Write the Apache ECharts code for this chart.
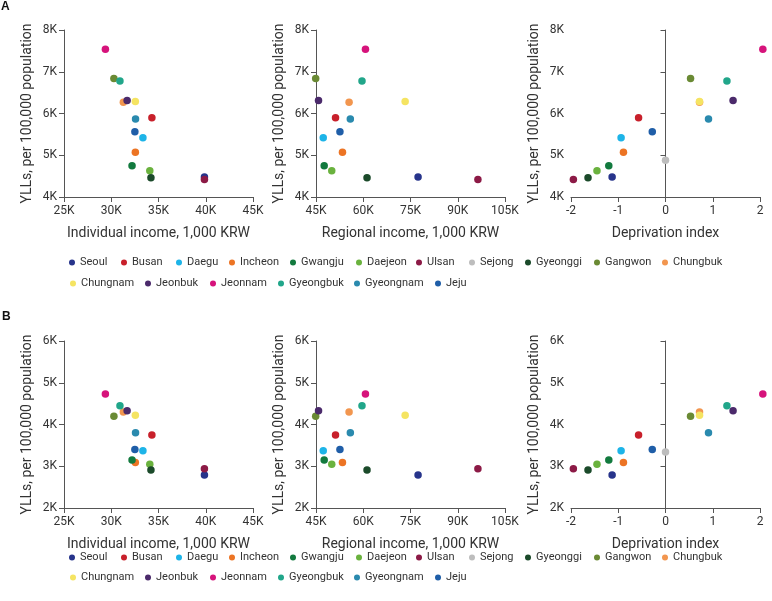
<!DOCTYPE html>
<html><head><meta charset="utf-8">
<script src="https://cdn.jsdelivr.net/npm/echarts@6/dist/echarts.min.js"></script>
<style>html,body{margin:0;padding:0;background:#fff}#c{width:772px;height:601px}</style>
</head><body><div id="c"></div>
<script>
const regions = ["Seoul","Busan","Daegu","Incheon","Gwangju","Daejeon","Ulsan","Sejong","Gyeonggi","Gangwon","Chungbuk","Chungnam","Jeonbuk","Jeonnam","Gyeongbuk","Gyeongnam","Jeju"];
const palette = ["#27348b","#c8202b","#1db4e8","#ec7424","#127a3e","#6ab23e","#8c1a46","#bdbdbd","#1b4a2a","#6a8a34","#f2964f","#f5e462","#4b2a6b","#d6137b","#21a68a","#2a8aae","#1f5ea8"];
// Individual income, 1,000 KRW (Sejong not shown)
const individualIncome = [39860,34300,33350,32550,32200,34080,39860,null,34200,30280,31280,32550,31680,29380,30920,32570,32500];
// Regional income, 1,000 KRW (Sejong not shown)
const regionalIncome = [77400,51200,47300,53400,47600,50000,96400,null,61200,44900,55500,73300,45800,60700,59600,55900,52600];
// Deprivation index
const deprivationIndex = [-1.13,-0.57,-0.94,-0.89,-1.20,-1.45,-1.95,0.00,-1.64,0.53,0.72,0.72,1.43,2.06,1.30,0.91,-0.28];
// YLLs per 100,000 population, panel A
const yllsA = [4480,5900,5420,5070,4750,4630,4420,4880,4460,6840,6270,6290,6310,7540,6780,5870,5560];
// YLLs per 100,000 population, panel B
const yllsB = [2790,3750,3370,3090,3150,3050,2940,3340,2910,4200,4300,4220,4330,4730,4450,3800,3400];

// layout only: legend marker centres (x) and row for each region
const legendX = [72,124,179,232,293,359,419,472,528,597,665,73,148,213,281,357,438];
const legendRow = [0,0,0,0,0,0,0,0,0,0,0,1,1,1,1,1,1];

const xAxesDef = [
  {name:"Individual income, 1,000 KRW", min:25000, max:45000, interval:5000, fmt:v=>(v/1000)+"K", data:individualIncome},
  {name:"Regional income, 1,000 KRW", min:45000, max:105000, interval:15000, fmt:v=>(v/1000)+"K", data:regionalIncome},
  {name:"Deprivation index", min:-2, max:2, interval:1, fmt:v=>String(v), data:deprivationIndex}
];
const rowsDef = [
  {ylls:yllsA, min:4000, max:8000, top:30, legendY:[264,285]},
  {ylls:yllsB, min:2000, max:6000, top:341, legendY:[559,579]}
];
const lefts = [64,316,571];
const W = 189, H = 167;
const textColor = "#333";
const font = "Roboto";
const grid=[], xAxis=[], yAxis=[], series=[], legend=[];
rowsDef.forEach((row,r)=>{
  xAxesDef.forEach((xd,c)=>{
    const i = grid.length;
    grid.push({left:lefts[c], top:row.top, width:W, height:H});
    xAxis.push({type:"value", gridIndex:i, min:xd.min, max:xd.max, interval:xd.interval,
      name:xd.name, nameLocation:"middle", nameGap:29,
      nameTextStyle:{fontSize:14, color:textColor, fontFamily:font},
      axisLine:{show:true, lineStyle:{color:"#555"}}, axisTick:{show:true, length:5, lineStyle:{color:"#555"}},
      splitLine:{show:false},
      axisLabel:{formatter:xd.fmt, fontSize:12, color:textColor, fontFamily:font, margin:8}});
    yAxis.push({type:"value", gridIndex:i, min:row.min, max:row.max, interval:1000,
      name:"YLLs, per 100,000 population", nameLocation:"middle", nameGap:30,
      nameTextStyle:{fontSize:14, color:textColor, fontFamily:font},
      axisLine:{show:true, lineStyle:{color:"#555"}}, axisTick:{show:true, length:5, lineStyle:{color:"#555"}},
      splitLine:{show:false},
      axisLabel:{formatter:v=>(v/1000)+"K", fontSize:12, color:textColor, fontFamily:font, margin:7}});
    regions.forEach((name,k)=>{
      const xv = xd.data[k];
      series.push({type:"scatter", name:name, xAxisIndex:i, yAxisIndex:i, clip:false,
        symbolSize:7.5, itemStyle:{color:palette[k], opacity:1},
        data: xv==null ? [] : [[xv, row.ylls[k]]]});
    });
  });
  regions.forEach((name,k)=>{
    legend.push({data:[name], left:legendX[k]-3, top:row.legendY[legendRow[k]]-7, padding:0,
      icon:"circle", itemWidth:6, itemHeight:6, selectedMode:false,
      textStyle:{fontSize:11, color:textColor, fontFamily:font}});
  });
});
const chart = echarts.init(document.getElementById("c"), null, {renderer:"canvas"});
chart.setOption({
  animation:false,
  color:palette,
  title:[{text:"A", left:1, top:1, padding:0, textStyle:{fontSize:12, fontWeight:"bold", color:"#111", fontFamily:"Liberation Sans"}},
         {text:"B", left:2, top:311, padding:0, textStyle:{fontSize:12, fontWeight:"bold", color:"#111", fontFamily:"Liberation Sans"}}],
  grid, xAxis, yAxis, series, legend
});
</script></body></html>
